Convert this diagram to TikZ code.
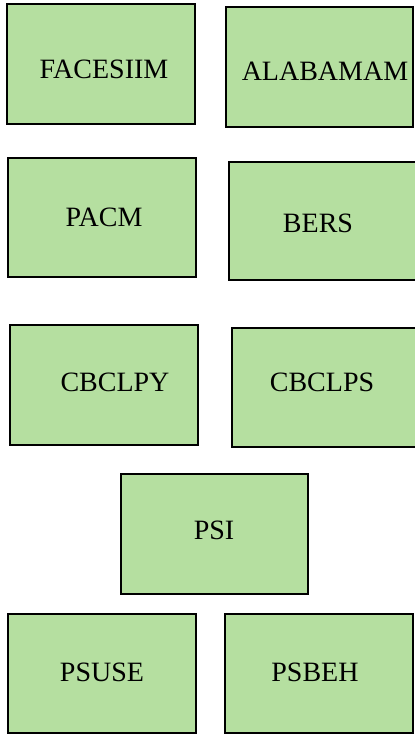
\documentclass[tikz,border=0pt]{standalone}
\usepackage{fontspec}
\setmainfont{Liberation Serif}
\definecolor{boxgreen}{RGB}{181,223,160}
\begin{document}
\begin{tikzpicture}[x=1pt,y=-1pt,
  box/.style={draw=black, line width=1.3pt, fill=boxgreen, rectangle, inner sep=0pt},
  lbl/.style={anchor=base, inner sep=0pt, font=\fontsize{28}{32}\selectfont}]
\useasboundingbox (0,0) rectangle (415,734);
\clip (0,0) rectangle (415,734);
\node[box, minimum width=188, minimum height=120] (b1) at (101,64) {};
\node[box, minimum width=187, minimum height=120] (b2) at (319.5,67) {};
\node[box, minimum width=188, minimum height=119] (b3) at (102,217.5) {};
\node[box, minimum width=188, minimum height=118] (b4) at (323,221) {};
\node[box, minimum width=188, minimum height=120] (b5) at (104,385) {};
\node[box, minimum width=188, minimum height=119] (b6) at (326,387.5) {};
\node[box, minimum width=187, minimum height=120] (b7) at (214.5,534) {};
\node[box, minimum width=188, minimum height=119] (b8) at (102,673.5) {};
\node[box, minimum width=188, minimum height=119] (b9) at (319,673.5) {};
\node[lbl] (t1) at (104,78) {FACESIIM};
\node[lbl] (t2) at (325,80) {ALABAMAM};
\node[lbl] (t3) at (104,226) {PACM};
\node[lbl] (t4) at (318,232) {BERS};
\node[lbl] (t5) at (115,391) {CBCLPY};
\node[lbl] (t6) at (322,391) {CBCLPS};
\node[lbl] (t7) at (214,539) {PSI};
\node[lbl] (t8) at (102,681) {PSUSE};
\node[lbl] (t9) at (315,681) {PSBEH};
\end{tikzpicture}
\end{document}
